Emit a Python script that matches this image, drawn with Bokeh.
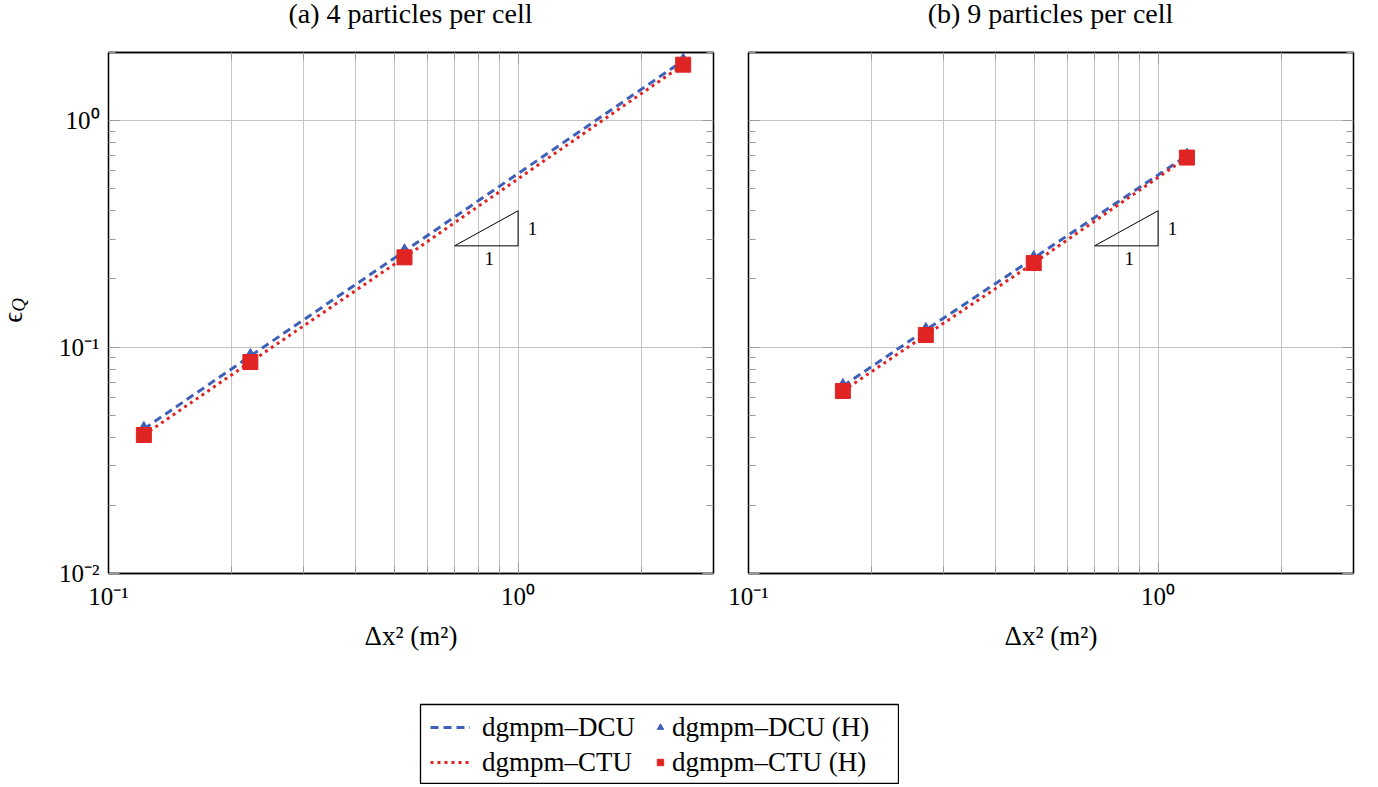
from bokeh.plotting import figure
from bokeh.models import FixedTicker, LogAxis, Label, Legend, LegendItem, Range1d, Div, Spacer
from bokeh.layouts import column, row
from bokeh.embed import file_html
from bokeh.resources import INLINE

# ---------------- data ----------------
titles = ["(a) 4 particles per cell", "(b) 9 particles per cell"]
dx2_a = [0.122, 0.222, 0.528, 2.53]
dcu_a = [0.0435, 0.0913, 0.265, 1.84]
ctu_a = [0.0409, 0.0859, 0.249, 1.767]
dx2_b = [0.170, 0.271, 0.497, 1.176]
dcu_b = [0.0673, 0.119, 0.247, 0.700]
ctu_b = [0.0640, 0.113, 0.235, 0.687]
slope_x = [0.7, 1.0, 1.0, 0.7]
slope_y = [0.28, 0.28, 0.40, 0.28]
x_ticks = [0.1, 1.0]
x_tick_labels = ["10⁻¹", "10⁰"]
y_ticks = [0.01, 0.1, 1.0]
y_tick_labels = ["10⁻²", "10⁻¹", "10⁰"]
series_labels = ["dgmpm–DCU", "dgmpm–DCU (H)", "dgmpm–CTU", "dgmpm–CTU (H)"]
x_label = "Δx² (m²)"
y_label_main, y_label_sub = "ϵ", "Q"

BLUE = "#3f60b8"
RED = "#e02424"
GRID = "#c4c4c4"
TICK = "#9a9a9a"
FONT = "Liberation Serif"

x_minor = [k * 10.0 ** e for e in (-1, 0) for k in range(2, 10)]
y_minor = [k * 10.0 ** e for e in (-2, -1, 0) for k in range(2, 10)]


def style_axis(ax, ticker, labels=None):
    ax.ticker = ticker
    ax.axis_line_color = "black"
    ax.axis_line_width = 1.3
    ax.major_tick_in = 11
    ax.major_tick_out = 0
    ax.minor_tick_in = 7
    ax.minor_tick_out = 0
    ax.major_tick_line_color = TICK
    ax.minor_tick_line_color = TICK
    if labels is None:
        ax.major_label_overrides = {t: "" for t in ticker.ticks}
        ax.major_label_standoff = 0
        ax.major_label_text_font_size = "1px"
    else:
        ax.major_label_overrides = dict(zip(ticker.ticks, labels))
        ax.major_label_text_font = FONT
        ax.major_label_text_font_size = "25px"
        ax.major_label_text_color = "black"
        ax.major_label_standoff = 9


def panel(xs, dcu, ctu, left_labels, mb_left, mb_right):
    p = figure(x_axis_type="log", y_axis_type="log",
               x_range=Range1d(0.1, 3.0), y_range=Range1d(0.01, 2.0),
               frame_width=605, frame_height=521,
               min_border_left=mb_left, min_border_right=mb_right,
               min_border_top=12, min_border_bottom=88,
               toolbar_location=None, output_backend="svg")
    p.outline_line_color = "black"
    p.outline_line_width = 1.3
    p.background_fill_color = "white"

    xt = FixedTicker(ticks=x_ticks, minor_ticks=x_minor)
    yt = FixedTicker(ticks=y_ticks, minor_ticks=y_minor)
    style_axis(p.below[0], xt, x_tick_labels)
    p.below[0].axis_label = x_label
    p.below[0].axis_label_text_font = FONT
    p.below[0].axis_label_text_font_size = "27px"
    p.below[0].axis_label_text_font_style = "normal"
    p.below[0].axis_label_text_color = "black"
    p.below[0].axis_label_standoff = 8
    style_axis(p.left[0], yt, y_tick_labels if left_labels else None)
    top = LogAxis()
    style_axis(top, FixedTicker(ticks=x_ticks, minor_ticks=x_minor))
    p.add_layout(top, "above")
    right = LogAxis()
    style_axis(right, FixedTicker(ticks=y_ticks, minor_ticks=y_minor))
    p.add_layout(right, "right")

    p.xgrid.ticker = xt
    p.ygrid.ticker = yt
    p.xgrid.grid_line_color = GRID
    p.xgrid.minor_grid_line_color = GRID
    p.ygrid.grid_line_color = GRID
    p.ygrid.minor_grid_line_color = None

    p.line(xs, dcu, color=BLUE, line_width=3, line_dash="8 5")
    p.scatter(xs, dcu, marker="triangle", size=13, color=BLUE)
    p.line(xs, ctu, color=RED, line_width=3, line_dash="3 4")
    p.scatter(xs, ctu, marker="square", size=15, color=RED)

    p.line(slope_x, slope_y, color="black", line_width=1)
    p.add_layout(Label(x=0.85, y=0.245, text="1", text_align="center", text_color="black",
                       text_baseline="middle", text_font=FONT, text_font_size="19px"))
    p.add_layout(Label(x=1.085, y=0.335, text="1", text_align="center", text_color="black",
                       text_baseline="middle", text_font=FONT, text_font_size="19px"))
    return p


pa = panel(dx2_a, dcu_a, ctu_a, True, 78, 5)
pb = panel(dx2_b, dcu_b, ctu_b, False, 30, 15)


def title_div(t):
    return Div(width=605, height=40, margin=0,
               text=(f"<div style='width:605px; text-align:center; font-family:\"{FONT}\"; "
                     f"font-size:28px; line-height:28px; margin:0; color:#000;'>{t}</div>"))


title_row = row(Spacer(width=108, height=40), title_div(titles[0]),
                Spacer(width=35, height=40), title_div(titles[1]))

ylab = Div(width=30, height=621, margin=0,
           text=(f"<div style='margin-top:258px; margin-left:0px; writing-mode:vertical-rl; "
                 f"transform:rotate(180deg); font-family:\"{FONT}\"; font-size:27px; "
                 f"line-height:27px; color:#000;'>{y_label_main}"
                 f"<sub style='font-size:19px; font-style:italic;'>{y_label_sub}</sub></div>"))

# legend figure (series drawn off-range, only their legend keys are visible)
lf = figure(frame_width=479, frame_height=80, min_border_left=420, min_border_right=0,
            min_border_top=43, min_border_bottom=0,
            x_range=Range1d(100, 101), y_range=Range1d(100, 101),
            toolbar_location=None, output_backend="svg")
lf.axis.visible = False
lf.grid.visible = False
lf.outline_line_color = "black"
lf.outline_line_width = 1.3
r1 = lf.line(dx2_a, dcu_a, color=BLUE, line_width=3, line_dash="8 5")
r2 = lf.scatter(dx2_a, dcu_a, marker="triangle", size=17, color=BLUE)
r3 = lf.line(dx2_a, ctu_a, color=RED, line_width=3, line_dash="3 4")
r4 = lf.scatter(dx2_a, ctu_a, marker="square", size=15, color=RED)


def mk_legend(items, gw, loc):
    return Legend(items=items, location=loc, glyph_width=gw, glyph_height=32,
                  label_height=32, spacing=3, padding=6, margin=0,
                  label_standoff=12, border_line_color=None, background_fill_alpha=0,
                  label_text_font=FONT, label_text_font_size="27px",
                  label_text_color="black")


leg1 = mk_legend([LegendItem(label=series_labels[0], renderers=[r1]),
                  LegendItem(label=series_labels[2], renderers=[r3])], 40, (10, 6))
leg2 = mk_legend([LegendItem(label=series_labels[1], renderers=[r2]),
                  LegendItem(label=series_labels[3], renderers=[r4])], 16, (232, 6))
leg2.label_standoff = 4
lf.add_layout(leg1)
lf.add_layout(leg2)

layout = column(title_row, row(ylab, pa, pb), lf)
open("out.html", "w").write(file_html(layout, INLINE))
